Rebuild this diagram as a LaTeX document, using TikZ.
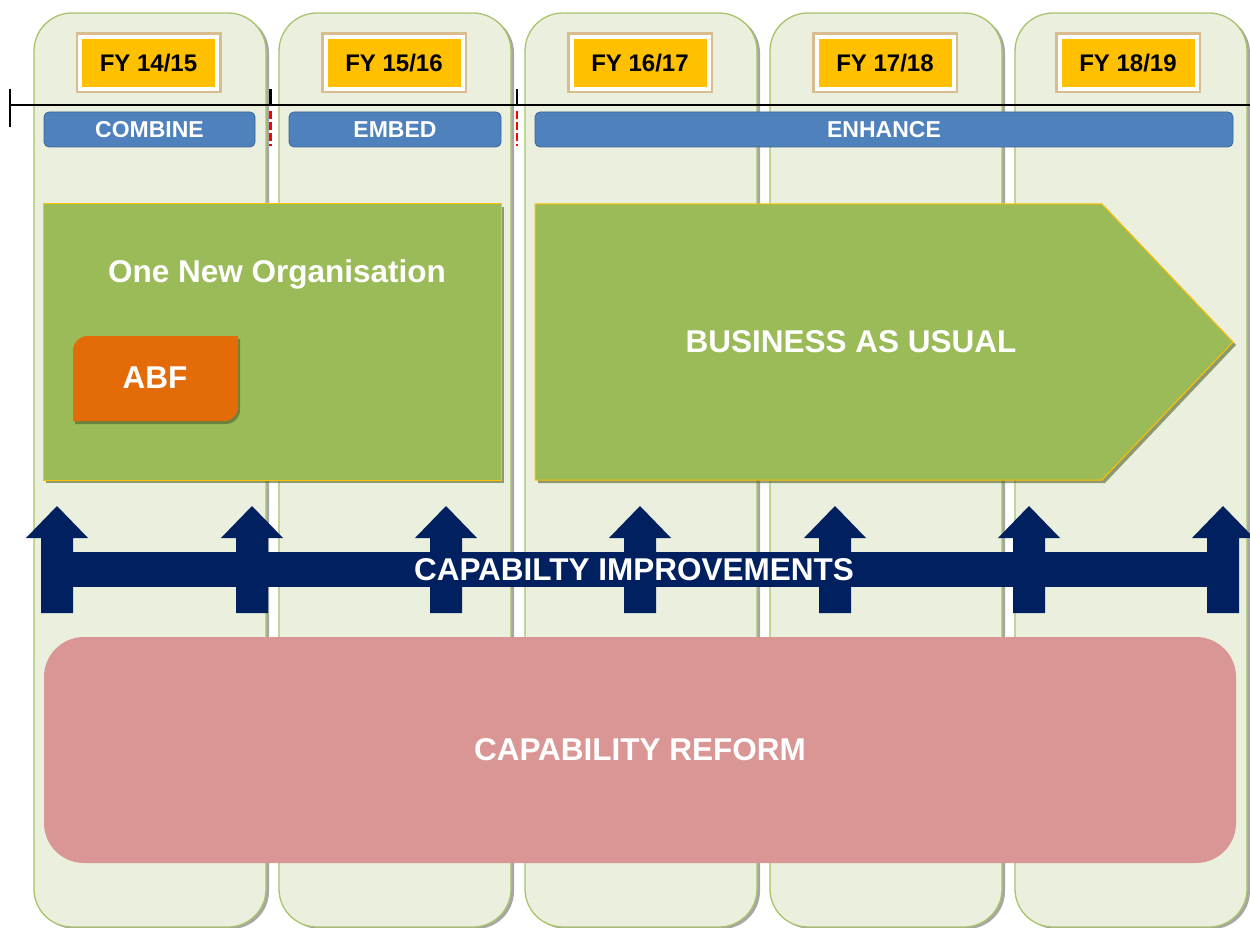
\documentclass[tikz,border=0pt]{standalone}
\usepackage{fontspec}
\setmainfont{Liberation Sans}
\usetikzlibrary{shadows}
\definecolor{colfill}{HTML}{EBF0DE}
\definecolor{colline}{HTML}{A6C46A}
\definecolor{fyorange}{HTML}{FFC000}
\definecolor{fyglow}{HTML}{D2A86E}
\definecolor{phaseblue}{HTML}{4F81BD}
\definecolor{phaseline}{HTML}{3A6696}
\definecolor{boxgreen}{HTML}{9BBB59}
\definecolor{boxgold}{HTML}{FFC000}
\definecolor{abforange}{HTML}{E36C09}
\definecolor{navyblue}{HTML}{002060}
\definecolor{reformpink}{HTML}{D99694}
\definecolor{greenshadow}{HTML}{4F6228}
\begin{document}
\begin{tikzpicture}[x=1pt,y=-1pt,
  colbox/.style={draw=colline, line width=1.3pt, fill=colfill, rounded corners=38pt,
    minimum width=232pt, minimum height=914pt, inner sep=0pt,
    drop shadow={shadow xshift=3pt, shadow yshift=-2pt, fill=black, opacity=0.35}},
  fybox/.style={fill=fyorange, draw=white, line width=4pt, minimum width=137pt,
    minimum height=52pt, inner sep=0pt, text=black,
    font=\bfseries\fontsize{24}{28}\selectfont,
    preaction={draw=fyglow, line width=9pt, opacity=0.7}},
  phasebar/.style={fill=phaseblue, draw=phaseline, line width=0.8pt, rounded corners=5pt,
    minimum height=35pt, inner sep=0pt, text=white,
    font=\bfseries\fontsize{23}{27}\selectfont},
  bigtext/.style={text=white, font=\bfseries\fontsize{31.5}{36}\selectfont, inner sep=0pt},
  greenbox/.style={fill=boxgreen, draw=boxgold, line width=1pt},
  tick/.style={line width=2.6pt, black},
  reddash/.style={red, line width=2.6pt, dash pattern=on 8pt off 3pt},
  uparrow/.style={fill=navyblue},
]
\useasboundingbox (0,0) rectangle (1250,928);
\fill[white] (0,0) rectangle (1250,928);

% columns
\foreach \i/\x in {1/150,2/395,3/641,4/886,5/1131}
  \node[colbox] (col\i) at (\x,470) {};

% FY boxes
\node[fybox] (fy1) at (148.5,63) {FY 14/15};
\node[fybox] (fy2) at (394,63) {FY 15/16};
\node[fybox] (fy3) at (640,63) {FY 16/17};
\node[fybox] (fy4) at (885,63) {FY 17/18};
\node[fybox] (fy5) at (1128,63) {FY 18/19};

% timeline
\coordinate (tlA) at (10,105);
\coordinate (tlB) at (1250,105);
\draw[tick] (tlA) -- (tlB);
\draw[tick] (10,89) -- (10,127);
\draw[tick] (270.5,89) -- (270.5,105);
\draw[tick] (517,89) -- (517,105);
\draw[reddash] (270.5,111) -- (270.5,146);
\draw[reddash] (517,111) -- (517,146);

% phase bars
\node[phasebar, minimum width=211pt] (combine) at (149.5,129.5) {COMBINE};
\node[phasebar, minimum width=212pt] (embed) at (395,129.5) {EMBED};
\node[phasebar, minimum width=698pt] (enhance) at (884,129.5) {ENHANCE};

% One New Organisation box
\fill[greenshadow, opacity=0.6] (46,207) rectangle (504,483);
\node[greenbox, minimum width=458pt, minimum height=276pt, inner sep=0pt] (onobox) at (272,342) {};
\node[bigtext] (onotext) at (277,274) {One New Organisation};

% ABF
\fill[black, opacity=0.3] (75,424) -- (75,353) .. controls (75,345.3) and (82.7,339) .. (89,339) -- (240,339) -- (240,410) .. controls (240,417.7) and (233.7,424) .. (226,424) -- cycle;
\fill[abforange] (73,421) -- (73,350) .. controls (73,342.3) and (80.7,336) .. (87,336) -- (238,336) -- (238,407) .. controls (238,414.7) and (231.7,421) .. (224,421) -- cycle;
\node[bigtext] (abf) at (155,378) {ABF};

% Business as usual
\fill[greenshadow, opacity=0.6] (538,207) -- (1105,207) -- (1236,345) -- (1105,483) -- (538,483) -- cycle;
\filldraw[greenbox] (535,204) -- (1102,204) -- (1233,342) -- (1102,480) -- (535,480) -- cycle;
\node[bigtext] (bau) at (851,342) {BUSINESS AS USUAL};

% capability improvements
\fill[navyblue] (42,552) rectangle (1238,587);
\foreach \c in {57,252,446,640,835,1029,1223}
  \fill[uparrow] ({\c-16},613) -- ({\c-16},538) -- ({\c-31},538) -- (\c,506)
     -- ({\c+31},538) -- ({\c+16},538) -- ({\c+16},613) -- cycle;
\node[bigtext] (capimp) at (634,570) {CAPABILTY IMPROVEMENTS};

% capability reform
\node[fill=reformpink, rounded corners=40pt, minimum width=1192pt, minimum height=226pt,
  inner sep=0pt, text=white, font=\bfseries\fontsize{31.5}{36}\selectfont] (reform) at (640,750) {CAPABILITY REFORM};
\end{tikzpicture}
\end{document}
